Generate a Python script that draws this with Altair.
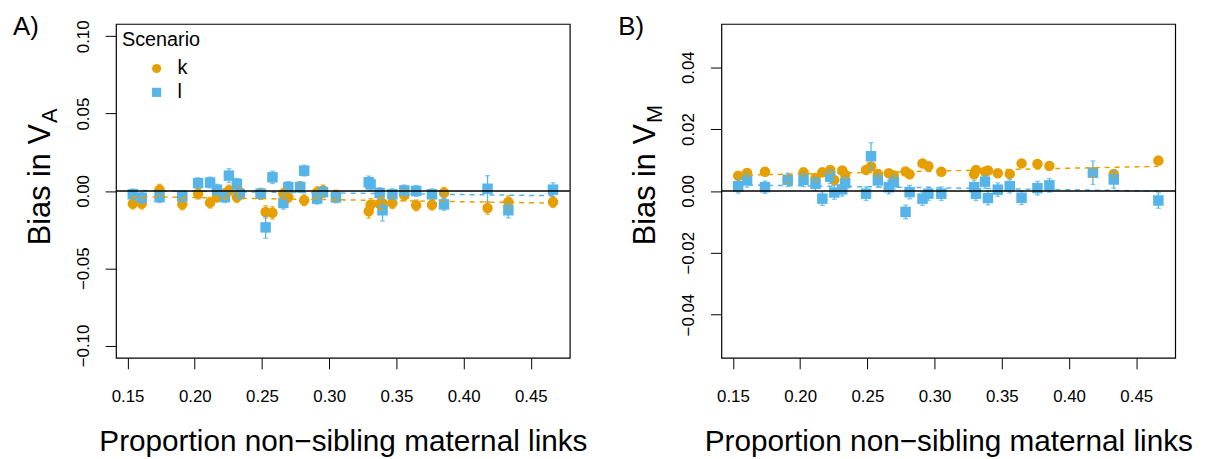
import altair as alt
import pandas as pd

# ---------------- data ----------------
prop = [0.1539, 0.1605, 0.1738, 0.1907, 0.2025, 0.2114, 0.2165, 0.2224, 0.2254,
        0.2313, 0.2335, 0.2490, 0.2527, 0.2578, 0.2659, 0.2696, 0.2784, 0.2814,
        0.2910, 0.2954, 0.3050, 0.3294, 0.3308, 0.3375, 0.3397, 0.3470, 0.3559,
        0.3647, 0.3765, 0.3854, 0.4178, 0.4333, 0.4665]

# Panel A: bias in V_A
va_k = [-0.0082, -0.0082, 0.0008, -0.0087, -0.0018, -0.0076, -0.0038, -0.0020, 0.0003,
        -0.0040, -0.0008, -0.0020, -0.0136, -0.0142, -0.0018, -0.0040, 0.0025, -0.0060,
        -0.0008, 0.0003, -0.0030, -0.0131, -0.0089, -0.0083, -0.0080, -0.0079, -0.0029,
        -0.0093, -0.0089, -0.0012, -0.0111, -0.0072, -0.0072]
va_l = [-0.0022, -0.0044, -0.0040, -0.0035, 0.0050, 0.0054, 0.0008, -0.0040, 0.0099,
        0.0046, -0.0020, -0.0018, -0.0236, 0.0088, -0.0078, 0.0025, 0.0025, 0.0131,
        -0.0050, -0.0008, -0.0042, 0.0056, 0.0042, -0.0014, -0.0125, -0.0022, 0.0003,
        0.0000, -0.0022, -0.0087, 0.0014, -0.0125, 0.0008]
va_k_se = [0.0035, 0.0035, 0.0035, 0.0035, 0.0035, 0.0035, 0.0035, 0.0035, 0.0035,
           0.0035, 0.0035, 0.0035, 0.0040, 0.0040, 0.0035, 0.0035, 0.0035, 0.0035,
           0.0035, 0.0035, 0.0035, 0.0045, 0.0040, 0.0040, 0.0040, 0.0035, 0.0035,
           0.0035, 0.0035, 0.0035, 0.0040, 0.0040, 0.0035]
va_l_se = [0.0035, 0.0035, 0.0035, 0.0035, 0.0035, 0.0035, 0.0035, 0.0035, 0.0045,
           0.0035, 0.0035, 0.0035, 0.0070, 0.0040, 0.0040, 0.0035, 0.0035, 0.0035,
           0.0035, 0.0035, 0.0035, 0.0040, 0.0040, 0.0035, 0.0070, 0.0035, 0.0035,
           0.0035, 0.0035, 0.0038, 0.0085, 0.0050, 0.0045]

# Panel B: bias in V_M
vm_k = [0.0049, 0.0058, 0.0062, 0.0036, 0.0060, 0.0042, 0.0060, 0.0068, 0.0035,
        0.0066, 0.0052, 0.0068, 0.0079, 0.0055, 0.0057, 0.0050, 0.0063, 0.0054,
        0.0089, 0.0080, 0.0062, 0.0054, 0.0068, 0.0062, 0.0066, 0.0057, 0.0055,
        0.0089, 0.0087, 0.0081, 0.0059, 0.0055, 0.0098]
vm_l = [0.0015, 0.0034, 0.0012, 0.0036, 0.0036, 0.0023, -0.0025, 0.0046, -0.0005,
        0.0005, 0.0025, -0.0009, 0.0112, 0.0034, 0.0012, 0.0028, -0.0068, -0.0004,
        -0.0025, -0.0009, -0.0009, 0.0012, -0.0009, 0.0030, -0.0023, 0.0004, 0.0015,
        -0.0022, 0.0009, 0.0018, 0.0059, 0.0037, -0.0031]
vm_k_se = [0.0012, 0.0012, 0.0012, 0.0012, 0.0012, 0.0012, 0.0012, 0.0012, 0.0012,
           0.0012, 0.0012, 0.0012, 0.0012, 0.0012, 0.0012, 0.0012, 0.0012, 0.0012,
           0.0012, 0.0012, 0.0012, 0.0012, 0.0012, 0.0012, 0.0012, 0.0012, 0.0012,
           0.0012, 0.0012, 0.0012, 0.0015, 0.0012, 0.0012]
vm_l_se = [0.0022, 0.0022, 0.0020, 0.0022, 0.0022, 0.0022, 0.0022, 0.0022, 0.0022,
           0.0022, 0.0022, 0.0022, 0.0044, 0.0022, 0.0022, 0.0022, 0.0022, 0.0022,
           0.0022, 0.0022, 0.0022, 0.0022, 0.0022, 0.0022, 0.0022, 0.0022, 0.0022,
           0.0022, 0.0022, 0.0022, 0.0038, 0.0028, 0.0025]

scenarios = ["k", "l"]
colors = ["#E69F00", "#56B4E9"]
shapes = ["circle", "square"]

x_ticks = [0.15, 0.20, 0.25, 0.30, 0.35, 0.40, 0.45]
ya_ticks = [-0.10, -0.05, 0.00, 0.05, 0.10]
yb_ticks = [-0.04, -0.02, 0.00, 0.02, 0.04]
zero_line = [0.0]

x_title = "Proportion non\u2212sibling maternal links"
y_main = ["Bias in V"]
sub_a = ["A"]
sub_b = ["M"]
tag_a = ["A)"]
tag_b = ["B)"]

FONT = "Liberation Sans"


def long_df(k, l, ks, ls):
    rows = []
    for name, vals, ses in (("k", k, ks), ("l", l, ls)):
        for x, v, s in zip(prop, vals, ses):
            rows.append({"prop": x, "bias": v, "lo": v - s, "hi": v + s, "scen": name})
    return pd.DataFrame(rows)


def panel(df, ydom, yticks, sub, tag, show_legend):
    xsc = alt.Scale(domain=[0.1414, 0.479], nice=False, zero=False)
    ysc = alt.Scale(domain=ydom, nice=False, zero=False)
    xaxis = alt.Axis(values=x_ticks, format=".2f", title=x_title, labelPadding=20,
                     titlePadding=22)
    yaxis = alt.Axis(values=yticks, format=".2f", title=None, labelAngle=-90,
                     labelAlign="center", labelBaseline="alphabetic", labelPadding=17)
    X = alt.X("prop:Q", scale=xsc, axis=xaxis)
    cscale = alt.Scale(domain=scenarios, range=colors)
    sscale = alt.Scale(domain=scenarios, range=shapes)
    if show_legend:
        leg = alt.Legend(title="Scenario", orient="top-left", offset=6, padding=0,
                         titleFontSize=20, titleFont=FONT, titleFontWeight="normal",
                         titleColor="black", labelFontSize=20, labelFont=FONT,
                         labelColor="black", symbolSize=85, symbolOffset=25,
                         labelOffset=11, titlePadding=9, rowPadding=4,
                         symbolStrokeWidth=0)
    else:
        leg = None
    base = alt.Chart(df)
    pts = base.mark_point(filled=True, size=112, opacity=1).encode(
        x=X,
        y=alt.Y("bias:Q", scale=ysc, axis=yaxis),
        color=alt.Color("scen:N", scale=cscale, legend=leg),
        shape=alt.Shape("scen:N", scale=sscale, legend=leg),
    )
    cnl = alt.Color("scen:N", scale=cscale, legend=None)
    bars = base.mark_rule(strokeWidth=1.3).encode(
        x=X, y=alt.Y("lo:Q", scale=ysc, axis=yaxis), y2="hi:Q", color=cnl)
    cap_lo = base.mark_tick(orient="horizontal", size=5, thickness=1.3).encode(
        x=X, y=alt.Y("lo:Q", scale=ysc, axis=yaxis), color=cnl)
    cap_hi = base.mark_tick(orient="horizontal", size=5, thickness=1.3).encode(
        x=X, y=alt.Y("hi:Q", scale=ysc, axis=yaxis), color=cnl)
    reg = base.transform_regression("prop", "bias", groupby=["scen"]).mark_line(
        strokeDash=[5, 5], strokeWidth=1.5).encode(
        x=X, y=alt.Y("bias:Q", scale=ysc, axis=yaxis), color=cnl)
    zero = alt.Chart(pd.DataFrame({"z": zero_line})).mark_rule(
        color="black", strokeWidth=1.5).encode(y=alt.Y("z:Q", scale=ysc, axis=yaxis))
    t_main = alt.Chart(pd.DataFrame({"t": y_main})).mark_text(
        angle=270, align="right", baseline="alphabetic", fontSize=31, font=FONT,
        color="black").encode(text="t:N", x=alt.value(-67), y=alt.value(101))
    t_sub = alt.Chart(pd.DataFrame({"t": sub})).mark_text(
        angle=270, align="left", baseline="alphabetic", fontSize=22, font=FONT,
        color="black").encode(text="t:N", x=alt.value(-60), y=alt.value(100))
    t_tag = alt.Chart(pd.DataFrame({"t": tag})).mark_text(
        align="left", baseline="alphabetic", fontSize=26, font=FONT,
        color="black").encode(text="t:N", x=alt.value(-104), y=alt.value(11))
    return alt.layer(pts, bars, cap_lo, cap_hi, reg, zero, t_main, t_sub, t_tag).properties(
        width=458, height=337)


dfa = long_df(va_k, va_l, va_k_se, va_l_se)
dfb = long_df(vm_k, vm_l, vm_k_se, vm_l_se)

pa = panel(dfa, [-0.108, 0.108], ya_ticks, sub_a, tag_a, True)
pb = panel(dfb, [-0.054, 0.054], yb_ticks, sub_b, tag_b, False)

chart = alt.hconcat(pa, pb, spacing=30).resolve_scale(
    color="independent", shape="independent"
).properties(
    padding={"left": 4, "top": 3, "right": 5, "bottom": 5}
).configure_view(
    stroke="black", strokeWidth=1.2
).configure_axis(
    grid=False, domain=False, tickColor="black", tickSize=11, tickWidth=1,
    labelFont=FONT, labelFontSize=17, labelColor="black",
    titleFont=FONT, titleFontSize=30, titleFontWeight="normal", titleColor="black"
)

chart.save("out.html", embed_options={"renderer": "svg", "actions": False})
